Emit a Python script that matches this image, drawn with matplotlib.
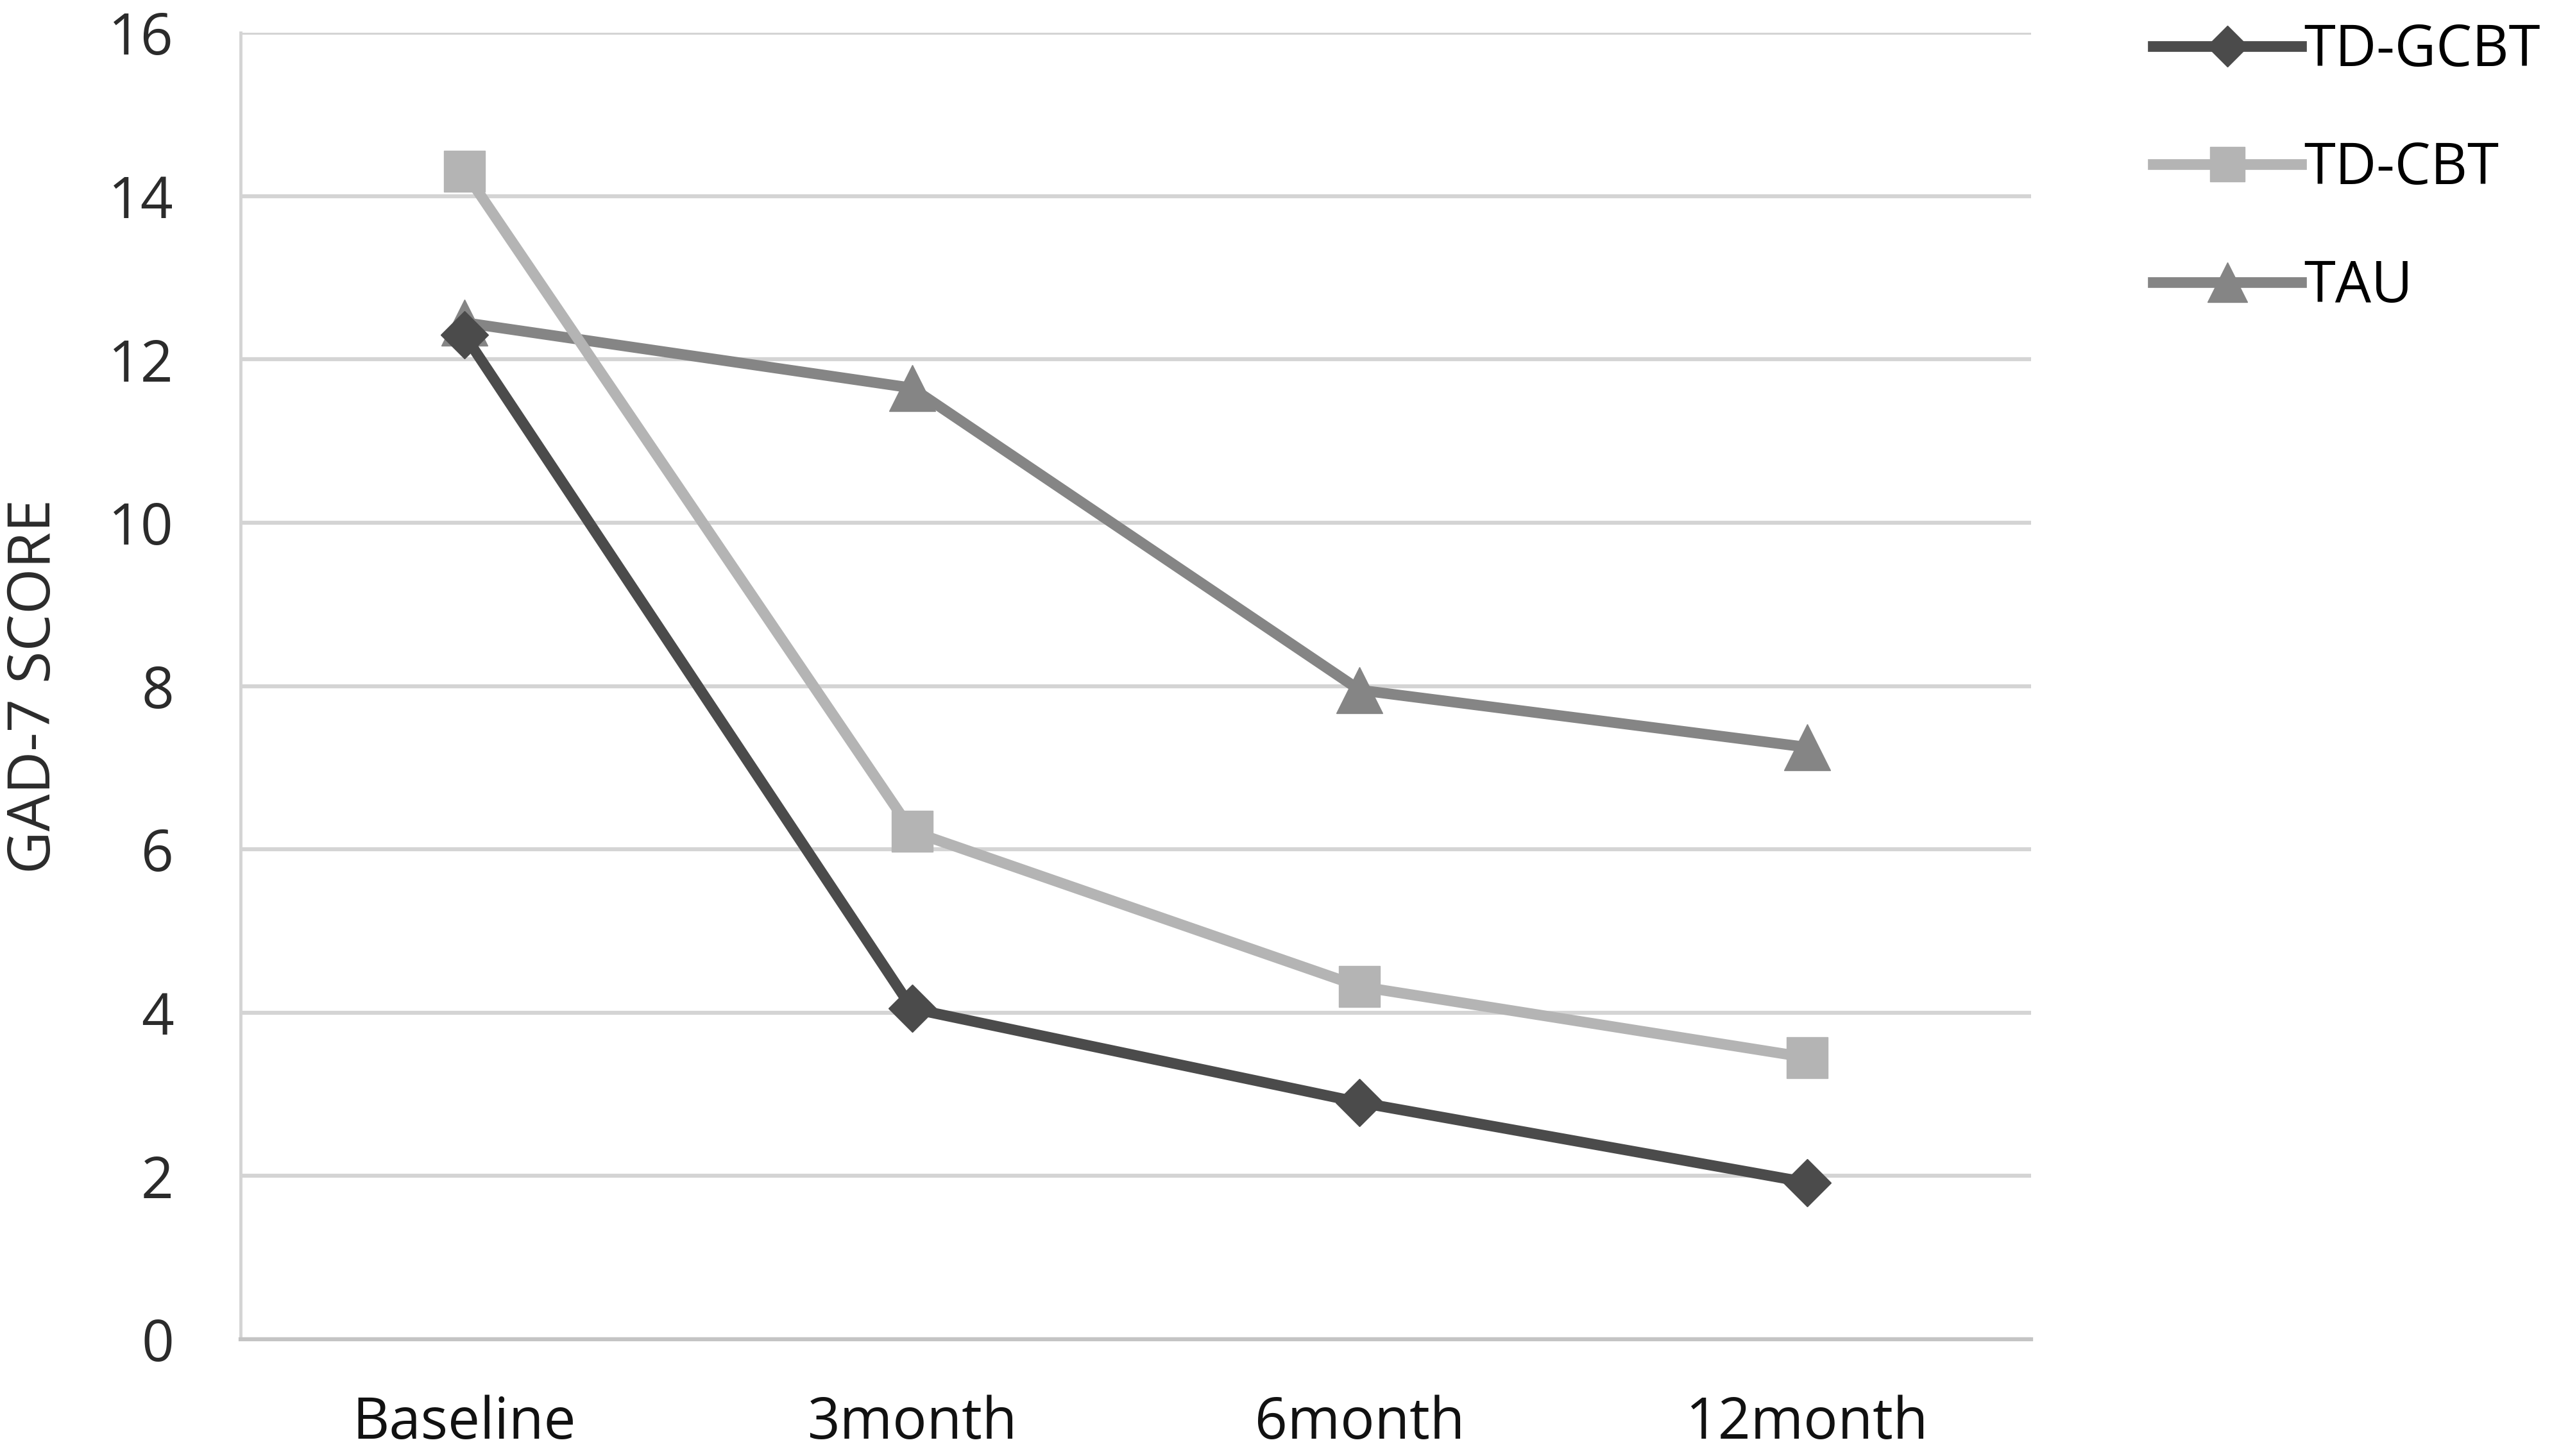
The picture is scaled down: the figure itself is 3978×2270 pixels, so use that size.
import numpy as np
import matplotlib.pyplot as plt

# %% data
timepoints = ["Baseline", "3month", "6month", "12month"]
td_gcbt = [12.3, 4.05, 2.9, 1.92]
td_cbt = [14.3, 6.22, 4.32, 3.45]
tau = [12.45, 11.65, 7.95, 7.25]
yticks = [0, 2, 4, 6, 8, 10, 12, 14, 16]

# %% figure
plt.rcParams['font.family'] = ['Open Sans', 'DejaVu Sans']

fig = plt.figure(figsize=(39.78, 22.70), dpi=100)
ax = fig.add_axes([0.0943, 0.0802, 0.7016, 0.8973])

x = np.arange(len(timepoints))
ax.plot(x, td_gcbt, color="#4b4b4b", lw=12, marker="D", ms=38,
        label="TD-GCBT", zorder=5)
ax.plot(x, td_cbt, color="#b4b4b4", lw=12, marker="s", ms=46,
        label="TD-CBT", zorder=4)
ax.plot(x, tau, color="#858585", lw=12, marker="^", ms=52,
        label="TAU", zorder=3)

ax.set_xlim(-0.5, 3.5)
ax.set_ylim(0, 16)
ax.set_yticks(yticks)
ax.set_xticks(x)
ax.set_xticklabels(timepoints)
ax.tick_params(axis="y", length=0, pad=75, labelsize=64, colors="#2b2b2b")
ax.tick_params(axis="x", length=0, pad=62, labelsize=64, colors="#111111")

ax.grid(axis="y", color="#d4d4d4", lw=4.5)
ax.set_axisbelow(True)
for s in ["top", "right"]:
    ax.spines[s].set_visible(False)
ax.spines["left"].set_color("#d4d4d4")
ax.spines["left"].set_linewidth(3.5)
ax.spines["bottom"].set_color("#c4c4c4")
ax.spines["bottom"].set_linewidth(4.5)

ax.set_ylabel("GAD-7 SCORE", fontsize=66, color="#2b2b2b", labelpad=50)

fig.legend(loc="upper left", bbox_to_anchor=(0.828, 1.012), frameon=False,
           fontsize=64, handlelength=2.6, handletextpad=0.05,
           borderpad=0.2, labelspacing=1.05, markerscale=0.85)

fig.savefig("out.png", dpi=100, facecolor="white")
